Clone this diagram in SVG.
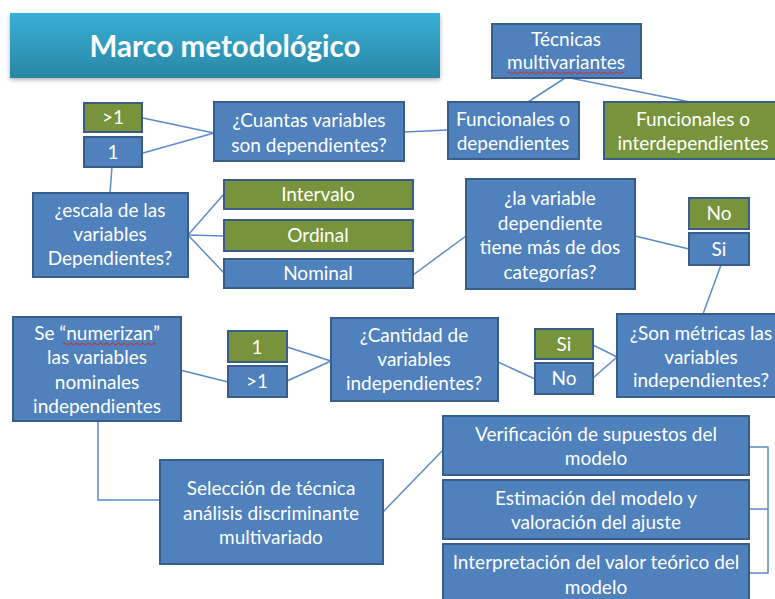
<svg xmlns="http://www.w3.org/2000/svg" width="775" height="599" viewBox="0 0 775 599">
<style>
.b{fill:#4F81BD;stroke:#385D8A;stroke-width:2}
.g{fill:#77933C;stroke:#385D8A;stroke-width:2}
.t{font-family:Lato,"Liberation Sans",sans-serif;font-size:19px;fill:#FFFFFF;text-anchor:middle}
.c line,.c polyline{stroke:#5B8BC8;stroke-width:1.5;fill:none}
.sq{stroke:#E02020;stroke-width:1;fill:none}
</style>
<defs>
<linearGradient id="tg" x1="0" y1="0" x2="0" y2="1">
<stop offset="0" stop-color="#37B0D6"/>
<stop offset="1" stop-color="#2A86A4"/>
</linearGradient>
<filter id="sh" x="-5%" y="-20%" width="110%" height="150%">
<feDropShadow dx="0" dy="2" stdDeviation="2" flood-color="#000" flood-opacity="0.3"/>
</filter>
</defs>
<rect width="775" height="599" fill="#FFFFFF"/>
<g id="title">
<rect x="10" y="13" width="430" height="65" fill="url(#tg)" filter="url(#sh)"/>
<text x="225" y="57" style="font-family:Lato,'Liberation Sans',sans-serif;font-size:29.5px;font-weight:bold;fill:#FFFFFF;text-anchor:middle">Marco metodológico</text>
</g>
<g class="c" id="connectors">
<line x1="565" y1="78" x2="528" y2="102"/>
<line x1="570" y1="78" x2="690" y2="102"/>
<line x1="143" y1="118" x2="214" y2="133"/>
<line x1="143" y1="153" x2="214" y2="133"/>
<line x1="404" y1="132" x2="448" y2="130"/>
<line x1="112" y1="167" x2="110" y2="193"/>
<line x1="188" y1="235" x2="224" y2="194"/>
<line x1="188" y1="235" x2="224" y2="236"/>
<line x1="188" y1="235" x2="224" y2="273"/>
<line x1="413" y1="275" x2="466" y2="236"/>
<line x1="635" y1="236" x2="689" y2="249"/>
<line x1="721" y1="265" x2="703" y2="314"/>
<line x1="593" y1="345" x2="617" y2="357"/>
<line x1="593" y1="378" x2="617" y2="357"/>
<line x1="498" y1="362" x2="535" y2="379"/>
<line x1="287" y1="347" x2="331" y2="361"/>
<line x1="287" y1="381" x2="331" y2="361"/>
<line x1="180" y1="370" x2="228" y2="382"/>
<polyline points="98,421 98,500 160,500"/>
<line x1="383" y1="512" x2="443" y2="450"/>
<polyline points="749,447 768,447 768,573 749,573"/>
<line x1="749" y1="509" x2="768" y2="509"/>
</g>
<g id="tecnicas">
<rect class="b" x="492" y="24" width="149" height="54"/>
<text class="t" x="566" y="46">Técnicas</text>
<text class="t" x="566" y="69">multivariantes</text>
<path class="sq" d="M507 73 q1.5 -2 3 0 t3 0 t3 0 t3 0 t3 0 t3 0 t3 0 t3 0 t3 0 t3 0 t3 0 t3 0 t3 0 t3 0 t3 0 t3 0 t3 0 t3 0 t3 0 t3 0 t3 0 t3 0 t3 0 t3 0 t3 0 t3 0 t3 0 t3 0 t3 0 t3 0 t3 0 t3 0 t3 0 t3 0 t3 0 t3 0 t3 0 t3 0 t3 0"/>
</g>
<g id="func-dep">
<rect class="b" x="448" y="102" width="131" height="57"/>
<text class="t" x="513" y="126">Funcionales o</text>
<text class="t" x="513" y="150">dependientes</text>
</g>
<g id="func-interdep">
<rect class="g" x="604" y="102" width="178" height="57"/>
<text class="t" x="693" y="126">Funcionales o</text>
<text class="t" x="693" y="150">interdependientes</text>
</g>
<g id="dep-gt1">
<rect class="g" x="84" y="103" width="58" height="29"/>
<text class="t" x="113" y="124">&gt;1</text>
</g>
<g id="dep-1">
<rect class="b" x="84" y="137" width="58" height="30"/>
<text class="t" x="113" y="159">1</text>
</g>
<g id="cuantas">
<rect class="b" x="214" y="102" width="190" height="59"/>
<text class="t" x="309" y="127">¿Cuantas variables</text>
<text class="t" x="309" y="152">son dependientes?</text>
</g>
<g id="escala">
<rect class="b" x="33" y="193" width="155" height="84"/>
<text class="t" x="110" y="217">¿escala de las</text>
<text class="t" x="110" y="241">variables</text>
<text class="t" x="110" y="265">Dependientes?</text>
</g>
<g id="intervalo">
<rect class="g" x="224" y="180" width="189" height="29"/>
<text class="t" x="318" y="201">Intervalo</text>
</g>
<g id="ordinal">
<rect class="g" x="224" y="220" width="189" height="31"/>
<text class="t" x="318" y="242">Ordinal</text>
</g>
<g id="nominal">
<rect class="b" x="224" y="259" width="189" height="29"/>
<text class="t" x="318" y="280">Nominal</text>
</g>
<g id="la-variable">
<rect class="b" x="466" y="179" width="169" height="110"/>
<text class="t" x="550" y="205">¿la variable</text>
<text class="t" x="550" y="230">dependiente</text>
<text class="t" x="550" y="254">tiene más de dos</text>
<text class="t" x="550" y="279">categorías?</text>
</g>
<g id="cat-no">
<rect class="g" x="689" y="198" width="60" height="31"/>
<text class="t" x="719" y="220">No</text>
</g>
<g id="cat-si">
<rect class="b" x="689" y="233" width="60" height="32"/>
<text class="t" x="719" y="256">Si</text>
</g>
<g id="son-metricas">
<rect class="b" x="617" y="314" width="168" height="83"/>
<text class="t" x="701" y="340">¿Son métricas las</text>
<text class="t" x="701" y="364">variables</text>
<text class="t" x="701" y="387">independientes?</text>
</g>
<g id="met-si">
<rect class="g" x="535" y="329" width="58" height="30"/>
<text class="t" x="564" y="351">Si</text>
</g>
<g id="met-no">
<rect class="b" x="535" y="363" width="58" height="31"/>
<text class="t" x="564" y="385">No</text>
</g>
<g id="cantidad">
<rect class="b" x="331" y="318" width="167" height="83"/>
<text class="t" x="414" y="342">¿Cantidad de</text>
<text class="t" x="414" y="366">variables</text>
<text class="t" x="414" y="390">independientes?</text>
</g>
<g id="ind-1">
<rect class="g" x="228" y="331" width="59" height="31"/>
<text class="t" x="257" y="354">1</text>
</g>
<g id="ind-gt1">
<rect class="b" x="228" y="366" width="59" height="31"/>
<text class="t" x="257" y="388">&gt;1</text>
</g>
<g id="numerizan">
<rect class="b" x="13" y="317" width="168" height="104"/>
<text class="t" x="97" y="340">Se “numerizan”</text>
<text class="t" x="97" y="364">las variables</text>
<text class="t" x="97" y="389">nominales</text>
<text class="t" x="97" y="413">independientes</text>
<path class="sq" d="M63 344 q1.5 -2 3 0 t3 0 t3 0 t3 0 t3 0 t3 0 t3 0 t3 0 t3 0 t3 0 t3 0 t3 0 t3 0 t3 0 t3 0 t3 0 t3 0 t3 0 t3 0 t3 0 t3 0 t3 0 t3 0 t3 0 t3 0 t3 0 t3 0 t3 0 t3 0 t3 0 t3 0"/>
</g>
<g id="seleccion">
<rect class="b" x="160" y="460" width="223" height="104"/>
<text class="t" x="271" y="495">Selección de técnica</text>
<text class="t" x="271" y="520">análisis discriminante</text>
<text class="t" x="271" y="544">multivariado</text>
</g>
<g id="verificacion">
<rect class="b" x="443" y="416" width="306" height="59"/>
<text class="t" x="596" y="441">Verificación de supuestos del</text>
<text class="t" x="596" y="465">modelo</text>
</g>
<g id="estimacion">
<rect class="b" x="443" y="480" width="306" height="59"/>
<text class="t" x="596" y="505">Estimación del modelo y</text>
<text class="t" x="596" y="529">valoración del ajuste</text>
</g>
<g id="interpretacion">
<rect class="b" x="443" y="544" width="306" height="62"/>
<text class="t" x="596" y="569">Interpretación del valor teórico del</text>
<text class="t" x="596" y="594">modelo</text>
</g>
</svg>
